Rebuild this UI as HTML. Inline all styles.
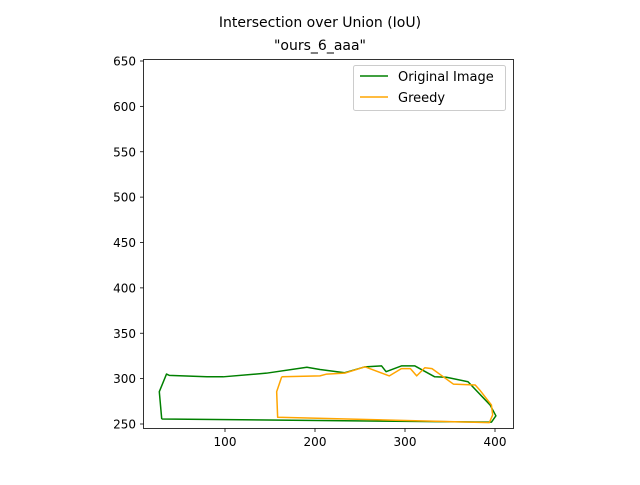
<!DOCTYPE html>
<html><head><meta charset="utf-8"><style>
body{margin:0;background:#fff}
text{font-family:"DejaVu Sans","Liberation Sans",sans-serif}
</style></head><body>
<svg id="chart" width="640" height="480">
<rect width="640" height="480" fill="#fff"/>
<text x="320" y="27" text-anchor="middle" font-size="14">Intersection over Union (IoU)</text>
<text x="320" y="50" text-anchor="middle" font-size="14">"ours_6_aaa"</text>
<g id="axes"></g>
<g id="series"></g>
<rect x="143.5" y="59.5" width="370" height="369" fill="none" stroke="#000" stroke-width="0.8"/>
<g>
<rect x="353.5" y="65.5" width="152" height="45" rx="2" fill="#fff" fill-opacity="0.8" stroke="#ccc"/>
<line x1="360" y1="76" x2="388" y2="76" stroke="green" stroke-width="1.5"/>
<text x="398" y="81" font-size="13">Original Image</text>
<line x1="360" y1="97" x2="388" y2="97" stroke="orange" stroke-width="1.5"/>
<text x="398" y="102" font-size="13">Greedy</text>
</g>
</svg>
<script>
const xTicks=[100,200,300,400];
const yTicks=[250,300,350,400,450,500,550,600,650];
const originalX=[29.7,27,35,38,80,98,146,191,205.5,233,255.5,274,279,296,311,333,346,370,394.5,401,396,29.7];
const originalY=[255.5,285.6,305,303.6,302,302,306,312.5,310,306.5,313,314,307.6,314,314,302,301.5,296.6,271,259,252,255.5];
const greedyX=[163,157.4,158.5,393.7,397.4,396,383,378,353.7,342.6,330,322,313,306,296,282.6,255.5,233,213,205.5,163];
const greedyY=[302,285.6,257.4,251.5,260,271,287.5,293,294,302,311,312,303,311,311,303,313,306,305,303,302];
const sx=v=>225+(v-100)*0.9;
const sy=v=>424-(v-250)*0.9075;
const ns="http://www.w3.org/2000/svg";
const axes=document.getElementById('axes');
function mk(t,a,p){const e=document.createElementNS(ns,t);for(const k in a)e.setAttribute(k,a[k]);p.appendChild(e);return e;}
xTicks.forEach(v=>{
 const l=mk('line',{x1:sx(v),x2:sx(v),y1:428.5,y2:432,stroke:'#000','stroke-width':0.8},axes);
 
 
 const t=mk('text',{x:sx(v),y:446,'text-anchor':'middle','font-size':12},axes);t.textContent=v;
 
 
});
yTicks.forEach(v=>{
 const l=mk('line',{x1:140,x2:143.5,y1:sy(v),y2:sy(v),stroke:'#000','stroke-width':0.8},axes);
 
 
 const t=mk('text',{x:136,y:sy(v)+4.5,'text-anchor':'end','font-size':12},axes);t.textContent=v;
 
 
});
const g=document.getElementById('series');
function poly(xs,ys,c,name){
 const p=mk('polyline',{points:xs.map((x,i)=>sx(x)+','+sy(ys[i])).join(' '),fill:'none',stroke:c,'stroke-width':1.5,'stroke-linejoin':'round'},g);
 
 
}
poly(originalX,originalY,'green','original-image-outline');
poly(greedyX,greedyY,'orange','greedy-outline');
</script>
</body></html>
